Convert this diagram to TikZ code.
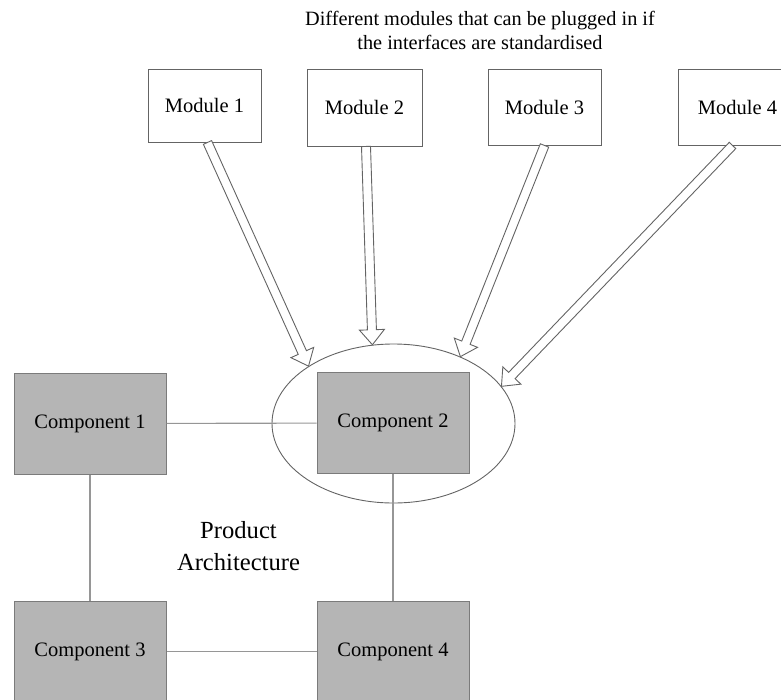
\documentclass[tikz,border=0pt]{standalone}
\usepackage{fontspec}
\setmainfont{Liberation Serif}
\usetikzlibrary{calc,shapes.geometric}

\definecolor{compfill}{RGB}{181,181,181}
\definecolor{edgegray}{RGB}{100,100,100}
\definecolor{linkgray}{RGB}{150,150,150}

\tikzset{
  module/.style={draw=edgegray, line width=0.9pt, fill=white, inner sep=0pt,
    font=\fontsize{20.5}{24}\selectfont},
  component/.style={draw=edgegray!85, line width=1pt, fill=compfill, inner sep=0pt,
    minimum width=152pt, minimum height=101pt, font=\fontsize{20.5}{24}\selectfont},
  link/.style={draw=linkgray, line width=1.1pt},
  plug/.style={draw=edgegray, line width=0.9pt, fill=white, line join=miter},
  caption/.style={align=center, inner sep=0pt}
}

% hollow block arrow from #1 to #2 (tip at #2)
\newcommand\plugarrow[2]{%
  \coordinate (hb) at ($(#2)!15pt!(#1)$);
  \draw[plug] ($(#1)!4.5pt!90:(#2)$) -- ($(hb)!4.5pt!-90:(#1)$)
    -- ($(hb)!12.5pt!-90:(#1)$) -- (#2) -- ($(hb)!12.5pt!90:(#1)$)
    -- ($(hb)!4.5pt!90:(#1)$) -- ($(#1)!4.5pt!-90:(#2)$) -- cycle;}

\begin{document}
\begin{tikzpicture}[x=1pt,y=-1pt]
\useasboundingbox (0,0) rectangle (781,699);
\clip (0,0) rectangle (781,699);

% caption over the modules
\node[caption, font=\fontsize{20.3}{24}\selectfont] (cap) at (480,30)
  {Different modules that can be plugged in if\\the interfaces are standardised};

% pluggable modules
\node[module, minimum width=113pt, minimum height=73pt] (m1) at (204.5,105.5) {Module 1};
\node[module, minimum width=115pt, minimum height=77pt] (m2) at (364.5,107.5) {Module 2};
\node[module, minimum width=113pt, minimum height=76pt] (m3) at (544.5,107)   {Module 3};
\node[module, minimum width=119pt, minimum height=76pt] (m4) at (737.5,107)   {Module 4};

% interface region around component 2
\node[draw=edgegray, line width=0.9pt, ellipse, inner sep=0pt,
  minimum width=243pt, minimum height=159pt] (ell) at (393.5,423.5) {};

% product architecture
\node[component] (c1) at (90,423.5)  {Component 1};
\node[component] (c2) at (393,423)   {Component 2};
\node[component] (c3) at (90,651.5)  {Component 3};
\node[component] (c4) at (393,651.5) {Component 4};

\draw[link] (c1) -- (c2);
\draw[link] (c1) -- (c3);
\draw[link] (c2) -- (c4);
\draw[link] (c3) -- (c4);

\node[caption, font=\fontsize{24.6}{32}\selectfont] (pa) at (238.5,546)
  {Product\\Architecture};

% plug-in arrows
\coordinate (s1) at ([xshift=3pt]m1.south);
\coordinate (s2) at ([xshift=1.5pt]m2.south);
\coordinate (s3) at (m3.south);
\coordinate (s4) at ([xshift=-5pt]m4.south);
\plugarrow{s1}{ell.146.5}
\plugarrow{s2}{ell.105.3}
\plugarrow{s3}{ell.45.6}
\plugarrow{s4}{ell.19.9}
\end{tikzpicture}
\end{document}
